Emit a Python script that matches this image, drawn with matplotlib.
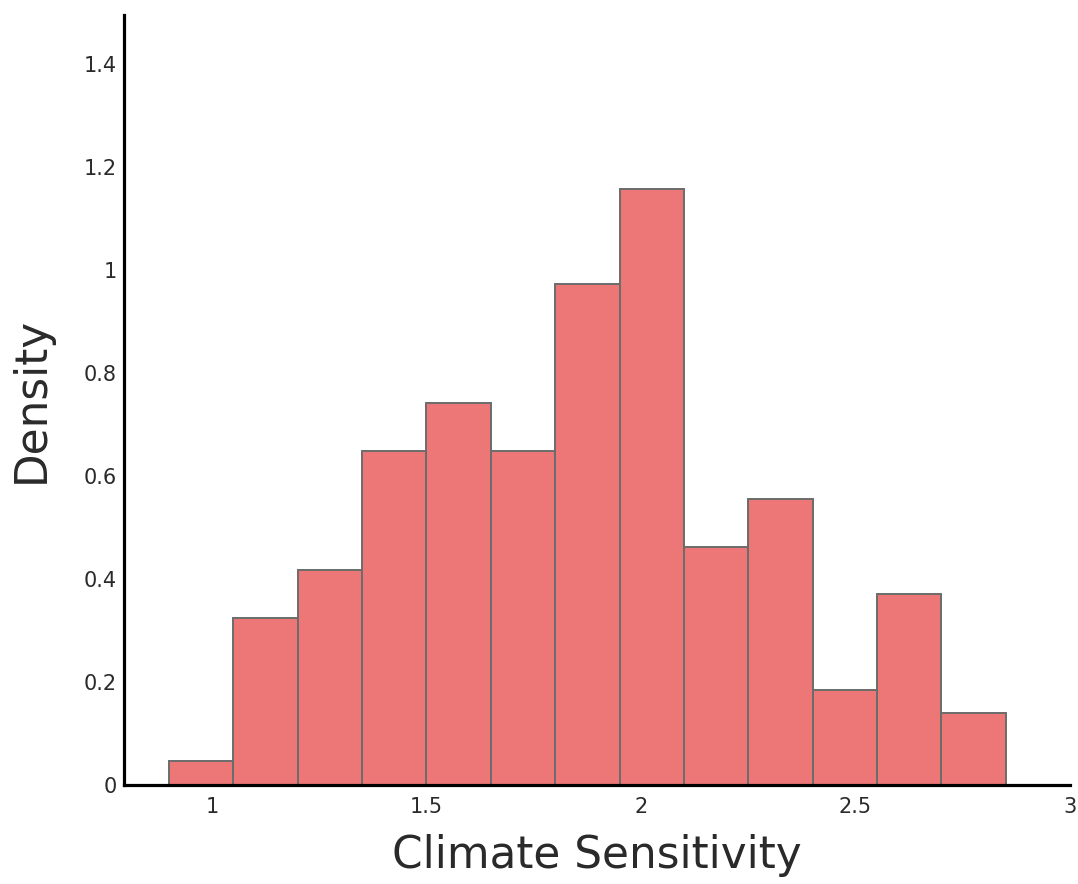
import matplotlib
matplotlib.use('Agg')
import matplotlib.pyplot as plt
import numpy as np

# Histogram bins (climate sensitivity) and density heights
bin_start = 0.9
bin_width = 0.15
densities = [0.046, 0.324, 0.417, 0.648, 0.741, 0.648, 0.972,
             1.157, 0.463, 0.556, 0.185, 0.370, 0.139]

x_ticks = [1, 1.5, 2, 2.5, 3]
x_tick_labels = ['1', '1.5', '2', '2.5', '3']
y_ticks = [0, 0.2, 0.4, 0.6, 0.8, 1.0, 1.2, 1.4]
y_tick_labels = ['0', '0.2', '0.4', '0.6', '0.8', '1', '1.2', '1.4']

edges = bin_start + bin_width * np.arange(len(densities))

fig = plt.figure(figsize=(10.78, 8.84), dpi=100)
ax = fig.add_axes([0.115, 0.112, 0.8776, 0.871])

ax.bar(edges, densities, width=bin_width, align='edge',
       color='#ED7676', edgecolor='#6B6B6B', linewidth=1.4)

ax.set_xlim(0.795, 3.0)
ax.set_ylim(0, 1.495)
ax.set_xticks(x_ticks)
ax.set_xticklabels(x_tick_labels)
ax.set_yticks(y_ticks)
ax.set_yticklabels(y_tick_labels)

for side in ['top', 'right']:
    ax.spines[side].set_visible(False)
for side in ['left', 'bottom']:
    ax.spines[side].set_linewidth(2.3)
    ax.spines[side].set_color('black')

ax.tick_params(axis='both', length=0, labelsize=15, colors='#2a2a2a')
ax.tick_params(axis='x', pad=9)
ax.tick_params(axis='y', pad=5)

ax.set_xlabel('Climate Sensitivity', fontsize=31.5, color='#2a2a2a', labelpad=12)
ax.set_ylabel('Density', fontsize=31.5, color='#2a2a2a', labelpad=22)

fig.savefig('out.png', dpi=100)
